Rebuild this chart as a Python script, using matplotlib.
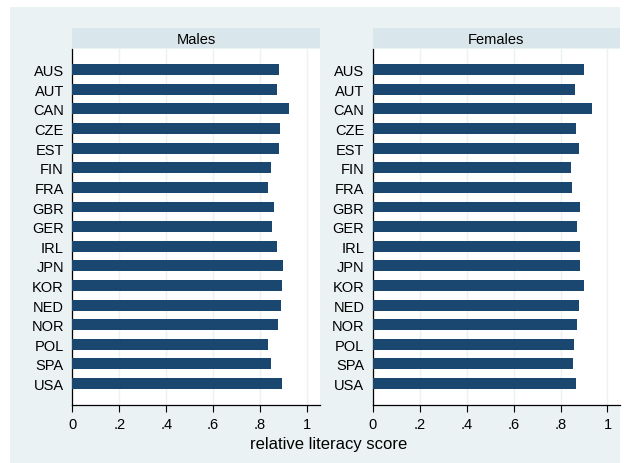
import matplotlib
matplotlib.use("Agg")
import matplotlib.pyplot as plt
import numpy as np

# country codes, top to bottom
paises = ["AUS", "AUT", "CAN", "CZE", "EST", "FIN", "FRA", "GBR", "GER",
          "IRL", "JPN", "KOR", "NED", "NOR", "POL", "SPA", "USA"]

# relative literacy score
hombres = [0.882, 0.871, 0.922, 0.886, 0.879, 0.848, 0.835, 0.857, 0.851,
           0.872, 0.896, 0.892, 0.888, 0.875, 0.834, 0.845, 0.892]
mujeres = [0.899, 0.861, 0.936, 0.864, 0.877, 0.843, 0.850, 0.884, 0.871,
           0.884, 0.881, 0.902, 0.879, 0.870, 0.858, 0.855, 0.864]

paneles = ["Males", "Females"]
xticks = [0, 0.2, 0.4, 0.6, 0.8, 1.0]
xtick_etiquetas = ["0", ".2", ".4", ".6", ".8", "1"]

color_barra = "#1a476f"
color_fondo = "#eaf2f3"
color_cabecera = "#d9e6eb"

plt.rcParams["font.family"] = ["Liberation Sans", "DejaVu Sans"]

W, H = 627, 464
fig = plt.figure(figsize=(W / 100, H / 100), dpi=100)
fig.patch.set_facecolor("white")

# outer light background
fondo = plt.Rectangle((10 / W, 0), 610 / W, 1 - 8 / H, transform=fig.transFigure,
                      facecolor=color_fondo, edgecolor="none", zorder=-10)
fig.add_artist(fondo)

ax_top = 50
ax_bot = 406
izquierdas = [72.3, 372.7]
derecha = [320, 620]

y = np.arange(len(paises))

for k, (nombre, datos) in enumerate(zip(paneles, [hombres, mujeres])):
    x0 = izquierdas[k]
    x1 = derecha[k]
    ax = fig.add_axes([x0 / W, 1 - ax_bot / H, (x1 - x0) / W, (ax_bot - ax_top) / H])
    ax.set_facecolor("white")
    ax.barh(y, datos, height=0.56, color=color_barra, zorder=3)
    ax.set_xlim(0, (x1 - x0) / 234.8)
    ax.set_ylim(len(paises) - 1 + 1.1, -1.06)
    ax.set_yticks(y)
    ax.set_yticklabels(paises, fontsize=10.5)
    ax.tick_params(axis="y", length=0, pad=6)
    ax.set_xticks(xticks)
    ax.set_xticklabels(xtick_etiquetas, fontsize=10.5)
    ax.tick_params(axis="x", length=5, width=0.8, pad=4, color="black")
    ax.grid(axis="x", color=color_fondo, linewidth=1, zorder=0)
    ax.set_axisbelow(True)
    for lado in ["top", "right"]:
        ax.spines[lado].set_visible(False)
    for lado in ["left", "bottom"]:
        ax.spines[lado].set_color("black")
        ax.spines[lado].set_linewidth(0.9)

    # panel header
    cab = fig.add_axes([x0 / W, 1 - 49 / H, (x1 - x0) / W, 20 / H])
    cab.set_facecolor(color_cabecera)
    cab.set_xticks([])
    cab.set_yticks([])
    for s in cab.spines.values():
        s.set_visible(False)
    cab.text(0.5, 0.45, nombre, ha="center", va="center", fontsize=10.5,
             transform=cab.transAxes)

fig.text(329 / W, 1 - 445 / H, "relative literacy score", ha="center", va="center",
         fontsize=12)

plt.savefig("out.png", dpi=100, facecolor=fig.get_facecolor())
